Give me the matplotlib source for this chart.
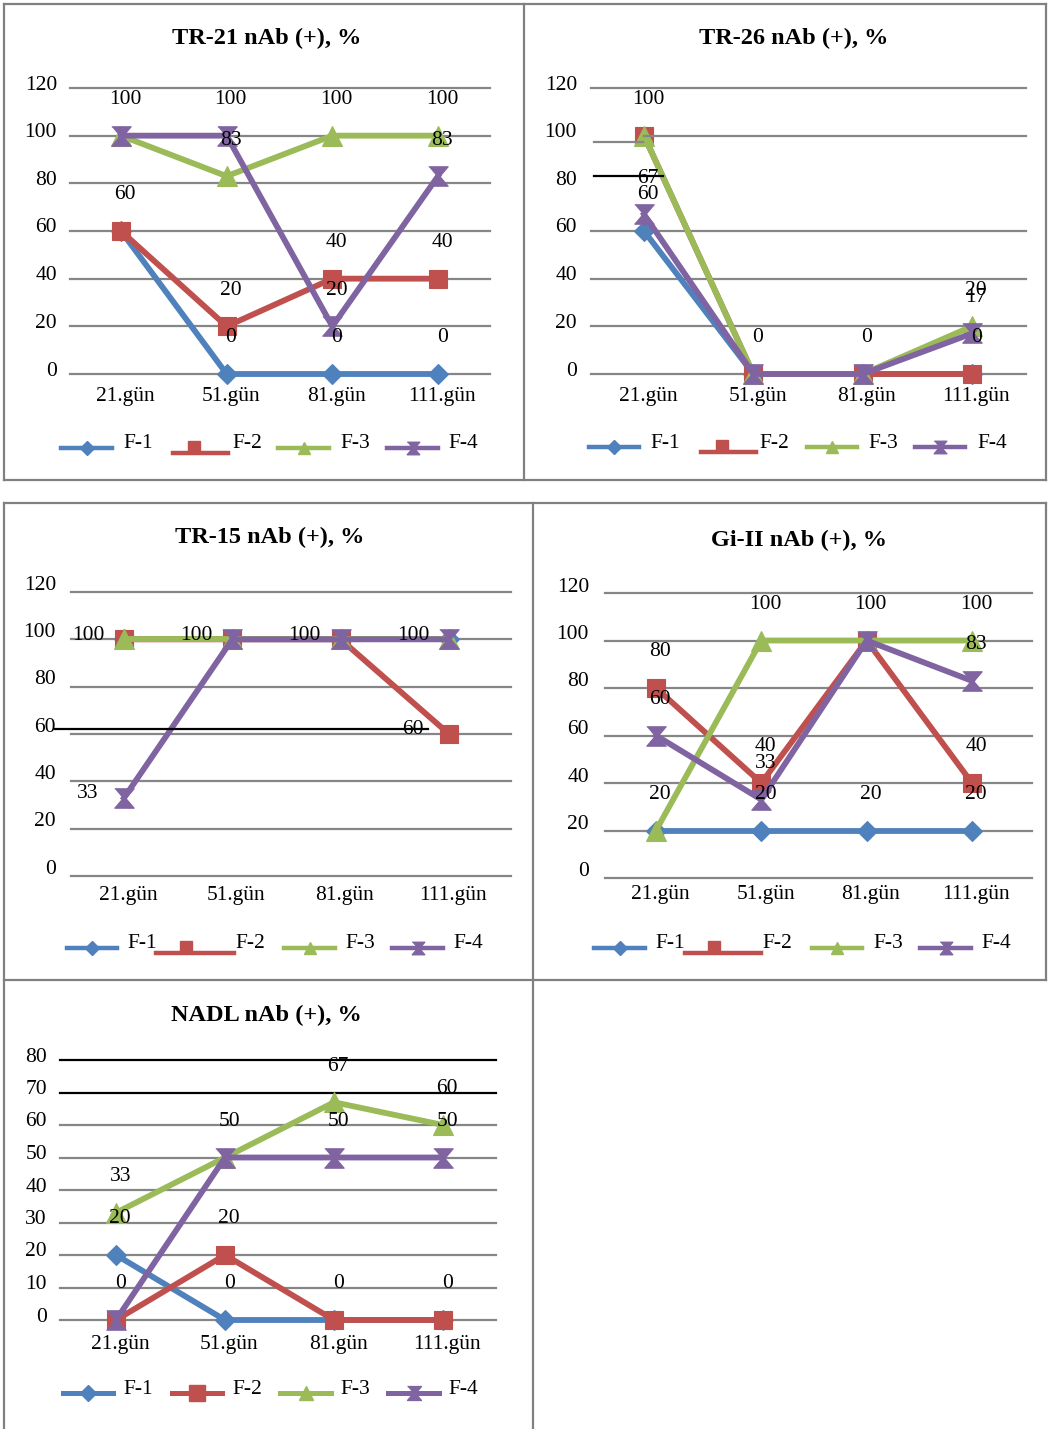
import matplotlib
matplotlib.use('Agg')
import matplotlib.pyplot as plt
from matplotlib.lines import Line2D

plt.rcParams['font.family'] = ['Liberation Serif', 'DejaVu Serif']

# ---- data -------------------------------------------------------------
days = ['21.gün', '51.gün', '81.gün', '111.gün']
series_names = ['F-1', 'F-2', 'F-3', 'F-4']

tr21_f1 = [60, 0, 0, 0]
tr21_f2 = [60, 20, 40, 40]
tr21_f3 = [100, 83, 100, 100]
tr21_f4 = [100, 100, 20, 83]

tr26_f1 = [60, 0, 0, 0]
tr26_f2 = [100, 0, 0, 0]
tr26_f3 = [100, 0, 0, 20]
tr26_f4 = [67, 0, 0, 17]

tr15_f1 = [100, 100, 100, 100]
tr15_f2 = [100, 100, 100, 60]
tr15_f3 = [100, 100, 100, 100]
tr15_f4 = [33, 100, 100, 100]

gi2_f1 = [20, 20, 20, 20]
gi2_f2 = [80, 40, 100, 40]
gi2_f3 = [20, 100, 100, 100]
gi2_f4 = [60, 33, 100, 83]

nadl_f1 = [20, 0, 0, 0]
nadl_f2 = [0, 20, 0, 0]
nadl_f3 = [33, 50, 67, 60]
nadl_f4 = [0, 50, 50, 50]

# ---- styling ----------------------------------------------------------
W, H = 1048, 1429
PT = 0.72  # points per pixel at dpi 100
FS = 15.5
colors = ['#4F81BD', '#C0504D', '#9BBB59', '#8064A2']
hourglass = [(-1, 1), (1, 1), (0.15, 0), (1, -1), (-1, -1), (-0.15, 0)]
markers = ['D', 's', '^', hourglass]
msizes = [10.5, 13.5, 14, 14]
GRID = '#868686'
BORDER = '#808080'

fig = plt.figure(figsize=(W / 100, H / 100), dpi=100)


def fx(x):
    return x / W


def fy(y):
    return 1 - y / H


def hline(x0, x1, y, color, lw):
    fig.add_artist(Line2D([fx(x0), fx(x1)], [fy(y), fy(y)], color=color,
                          lw=lw, transform=fig.transFigure, zorder=2))


def vline(x, y0, y1, color, lw):
    fig.add_artist(Line2D([fx(x), fx(x)], [fy(y0), fy(y1)], color=color,
                          lw=lw, transform=fig.transFigure, zorder=2))


panels = [
    dict(title='TR-21 nAb (+), %', data=[tr21_f1, tr21_f2, tr21_f3, tr21_f4],
         ymax=120, ystep=20, gx=(70, 490), c=(121, 438), py=(374, 88),
         title_xy=(267, 38), xdy=23, ypad=13, yup=3, lab='above',
         grid_skip=[], grid_black=[],
         leg_y=448, leg=[(61, 112, 123), (173, 228, 232), (278, 329, 340), (387, 438, 448)],
         glitch=True, extra=[]),
    dict(title='TR-26 nAb (+), %', data=[tr26_f1, tr26_f2, tr26_f3, tr26_f4],
         ymax=120, ystep=20, gx=(591, 1026), c=(644, 972), py=(374, 88),
         title_xy=(794, 38), xdy=22, ypad=14, yup=3, lab='above',
         grid_skip=[80, 100], grid_black=[],
         leg_y=447, leg=[(589, 639, 650), (701, 756, 759), (807, 857, 868), (915, 965, 977)],
         glitch=True,
         extra=[(644, 1026, 136, GRID), (594, 643, 142, GRID), (594, 663, 176, 'black')]),
    dict(title='TR-15 nAb (+), %', data=[tr15_f1, tr15_f2, tr15_f3, tr15_f4],
         ymax=120, ystep=20, gx=(71, 511), c=(124, 449), py=(876, 592),
         title_xy=(270, 537), xdy=19, ypad=15, yup=7, lab='left',
         grid_skip=[], grid_black=[],
         leg_y=948, leg=[(67, 117, 127), (156, 234, 235), (284, 335, 345), (392, 443, 453)],
         glitch=True, extra=[(55, 428, 729, 'black')]),
    dict(title='Gi-II nAb (+), %', data=[gi2_f1, gi2_f2, gi2_f3, gi2_f4],
         ymax=120, ystep=20, gx=(605, 1032), c=(656, 972), py=(878, 593),
         title_xy=(799, 540), xdy=17, ypad=16, yup=6, lab='above',
         grid_skip=[], grid_black=[],
         leg_y=948, leg=[(594, 645, 655), (685, 761, 762), (812, 862, 873), (920, 971, 981)],
         glitch=True, extra=[]),
    dict(title='NADL nAb (+), %', data=[nadl_f1, nadl_f2, nadl_f3, nadl_f4],
         ymax=80, ystep=10, gx=(60, 496), c=(116, 443), py=(1320, 1060),
         title_xy=(266, 1015), xdy=25, ypad=13, yup=3, lab='above',
         grid_skip=[], grid_black=[70, 80],
         leg_y=1393, leg=[(63, 113, 123), (172, 222, 232), (280, 331, 340), (388, 439, 448)],
         glitch=False, extra=[]),
]

for p in panels:
    gx0, gx1 = p['gx']
    c0, c3 = p['c']
    yb, yt = p['py']
    ax = fig.add_axes([fx(gx0), fy(yb), (gx1 - gx0) / W, (yb - yt) / H])
    s = (c3 - c0) / 3
    ax.set_xlim(-(c0 - gx0) / s, 3 + (gx1 - c3) / s)
    ax.set_ylim(0, p['ymax'])
    ax.set_facecolor('none')
    for sp in ax.spines.values():
        sp.set_visible(False)
    ax.set_xticks([])
    ax.set_yticks([])

    yticks = list(range(0, p['ymax'] + 1, p['ystep']))
    for v in yticks:
        if v not in p['grid_skip']:
            col = 'black' if v in p['grid_black'] else GRID
            ax.axhline(v, color=col, lw=1.6, zorder=1, clip_on=False)
        ax.annotate(str(v), xy=(0, v), xycoords=('axes fraction', 'data'),
                    xytext=(-p['ypad'] * PT, p['yup'] * PT), textcoords='offset points',
                    ha='right', va='center', fontsize=FS)
    for i, d in enumerate(days):
        ax.annotate(d, xy=(i, 0), xycoords=('data', 'axes fraction'),
                    xytext=(3, -p['xdy'] * PT), textcoords='offset points',
                    ha='center', va='center', fontsize=FS)
    for (x0, x1, y, col) in p['extra']:
        hline(x0, x1, y, col, 1.6)

    xs = list(range(len(days)))
    for k, vals in enumerate(p['data']):
        ax.plot(xs, vals, color=colors[k], lw=4.2, marker=markers[k],
                markersize=msizes[k], markeredgecolor=colors[k], markeredgewidth=0.8,
                zorder=3 + k * 0.1, clip_on=False)

    # data labels (identical labels at the same spot are drawn once)
    seen = set()
    for k, vals in enumerate(p['data']):
        for i, v in enumerate(vals):
            if (i, v) in seen:
                continue
            seen.add((i, v))
            off = (3, 26) if p['lab'] == 'above' else (-26, 3)
            ax.annotate(str(v), xy=(i, v), xytext=off, textcoords='offset points',
                        ha='center', va='center', fontsize=FS, zorder=6)

    fig.text(fx(p['title_xy'][0]), fy(p['title_xy'][1]), p['title'], ha='center',
             va='center', fontsize=17.5, fontweight='bold')

    # legend drawn by hand to follow the original layout
    ly = p['leg_y']
    for k, (x0, x1, xt) in enumerate(p['leg']):
        big = not p['glitch']
        lsz = [8, 11, 9.5, 10][k] if big else [7, 9, 8.5, 9][k]
        if k == 1 and p['glitch']:
            hline(x0, x1, ly + 5, colors[k], 3.2)
            mx, my = x0 + 0.38 * (x1 - x0), ly - 1
        else:
            fig.add_artist(Line2D([fx(x0), fx(x1)], [fy(ly), fy(ly)], color=colors[k],
                                  lw=3.6 if big else 3.2, transform=fig.transFigure))
            mx, my = (x0 + x1) / 2, ly
        fig.add_artist(Line2D([fx(mx)], [fy(my)], color=colors[k], marker=markers[k],
                              markersize=lsz, markeredgecolor=colors[k],
                              transform=fig.transFigure, zorder=3))
        fig.text(fx(xt), fy(ly - 4), series_names[k], ha='left', va='center', fontsize=FS)

# table borders
for y in (4, 480, 503, 980):
    hline(4, 1046, y, BORDER, 1.6)
vline(4, 4, 480, BORDER, 1.6)
vline(524, 4, 480, BORDER, 1.6)
vline(1046, 4, 480, BORDER, 1.6)
vline(4, 503, 1429, BORDER, 1.6)
vline(533, 503, 1429, BORDER, 1.6)
vline(1046, 503, 980, BORDER, 1.6)

fig.savefig('out.png', dpi=100)
